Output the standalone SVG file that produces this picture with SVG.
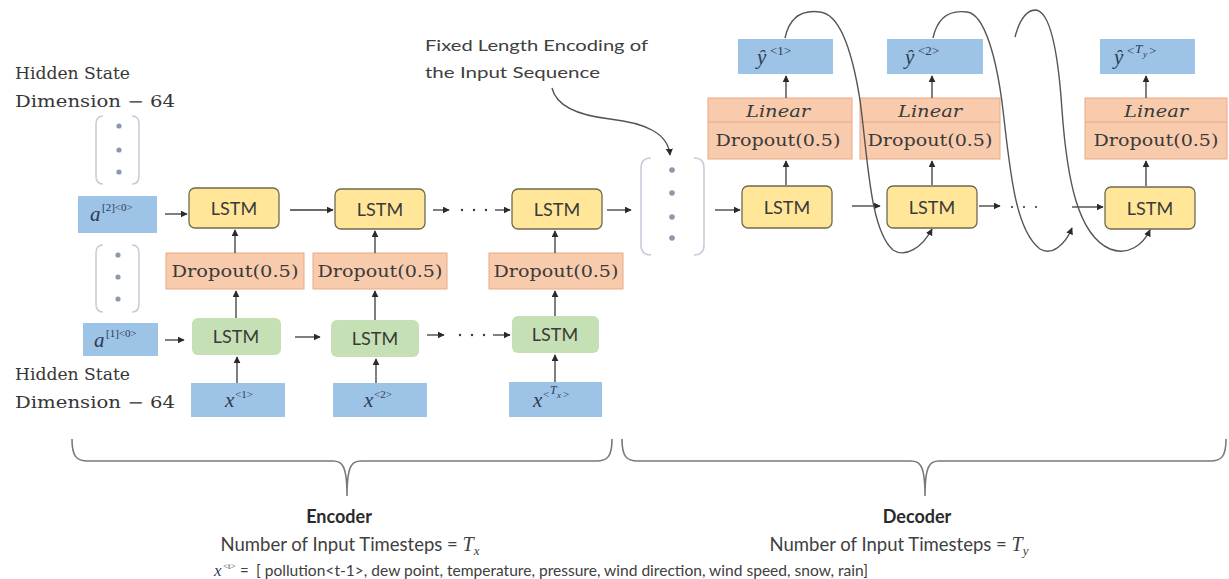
<svg xmlns="http://www.w3.org/2000/svg" width="1229" height="579" viewBox="0 0 1229 579">
<style>
.bg{fill:#ffffff}
.blue{fill:#9DC3E6}
.yel{fill:#FFE699;stroke:#6e6a4e;stroke-width:1.3}
.org{fill:#F8CBAD;stroke:#eaa886;stroke-width:1}
.grn{fill:#C5E0B4}
.lstm{font-family:Lato,"Open Sans",sans-serif;font-size:18px;fill:#3a3a3a;text-anchor:middle}
.drop{font-family:"DejaVu Serif",serif;font-size:17px;fill:#3a3a3a;text-anchor:middle}
.lin{font-family:"DejaVu Serif",serif;font-style:italic;font-size:17px;fill:#3a3a3a;text-anchor:middle}
.lbl{font-family:"DejaVu Serif",serif;font-size:16px;fill:#363636}
.mi{font-family:"Liberation Serif",serif;font-style:italic;font-size:21px;fill:#2f3b52}
.sup{font-family:"Liberation Serif",serif;font-size:11px;fill:#2f3b52}
.supi{font-family:"Liberation Serif",serif;font-style:italic;font-size:12px;fill:#2f3b52}
.sans{font-family:Lato,"Open Sans",sans-serif;font-size:16px;fill:#404040}
.num{font-family:Lato,"Open Sans",sans-serif;font-size:18.5px;fill:#404040;text-anchor:middle}
.bold{font-family:Lato,"Open Sans",sans-serif;font-weight:bold;font-size:18px;fill:#2a2a2a;text-anchor:middle}
.brk{fill:none;stroke:#c3ccd8;stroke-width:1.5}
.dot{fill:#8a9aae}
.ar{fill:none;stroke:#3a3a3a;stroke-width:1.3;marker-end:url(#ah)}
.cv{fill:none;stroke:#555555;stroke-width:1.4;marker-end:url(#ah)}
.brace{fill:none;stroke:#7a7a7a;stroke-width:1.6}
.sd{fill:#3a3a3a}
</style>
<defs>
<marker id="ah" viewBox="0 0 10 10" refX="9" refY="5" markerWidth="7" markerHeight="7" markerUnits="userSpaceOnUse" orient="auto">
<path d="M0,0 L10,5 L0,10 z" fill="#2a2a2a"/>
</marker>
</defs>
<rect class="bg" x="0" y="0" width="1229" height="579"/>

<!-- labels -->
<g id="hidden-top">
<text class="lbl" x="15" y="79" textLength="115" lengthAdjust="spacingAndGlyphs">Hidden State</text>
<text class="lbl" x="15" y="107" textLength="160" lengthAdjust="spacingAndGlyphs">Dimension  − 64</text>
</g>
<g id="hidden-bottom">
<text class="lbl" x="15" y="380" textLength="115" lengthAdjust="spacingAndGlyphs">Hidden State</text>
<text class="lbl" x="15" y="408" textLength="160" lengthAdjust="spacingAndGlyphs">Dimension  − 64</text>
</g>
<g id="fixed-label">
<text class="sans" x="425" y="51" textLength="223" lengthAdjust="spacingAndGlyphs">Fixed Length Encoding of</text>
<text class="sans" x="425" y="78" textLength="175" lengthAdjust="spacingAndGlyphs">the Input Sequence</text>
</g>

<!-- brackets (hidden state vectors) -->
<g id="vec-a2">
<path class="brk" d="M103,116 Q96,116 96,124 L96,176 Q96,184 103,184"/>
<path class="brk" d="M132,116 Q139,116 139,124 L139,176 Q139,184 132,184"/>
<circle class="dot" cx="119" cy="126" r="2.6"/>
<circle class="dot" cx="119" cy="150" r="2.6"/>
<circle class="dot" cx="119" cy="172" r="2.6"/>
</g>
<g id="vec-a1">
<path class="brk" d="M103,245 Q96,245 96,253 L96,304 Q96,312 103,312"/>
<path class="brk" d="M132,245 Q139,245 139,253 L139,304 Q139,312 132,312"/>
<circle class="dot" cx="118" cy="255" r="2.6"/>
<circle class="dot" cx="118" cy="277" r="2.6"/>
<circle class="dot" cx="118" cy="299" r="2.6"/>
</g>
<g id="encoding">
<path class="brk" d="M651,158 Q641,158 641,168 L641,245 Q641,255 651,255"/>
<path class="brk" d="M694,158 Q704,158 704,168 L704,245 Q704,255 694,255"/>
<circle class="dot" cx="672" cy="170" r="2.8"/>
<circle class="dot" cx="672" cy="193" r="2.8"/>
<circle class="dot" cx="672" cy="217" r="2.8"/>
<circle class="dot" cx="672" cy="238" r="2.8"/>
</g>

<!-- encoder nodes -->
<g id="a2">
<rect class="blue" x="78" y="196" width="79" height="37"/>
<text class="mi" x="90" y="221">a</text><text class="sup" x="102" y="211">[2]&lt;0&gt;</text>
</g>
<g id="a1">
<rect class="blue" x="83" y="323" width="75" height="33"/>
<text class="mi" x="94" y="347">a</text><text class="sup" x="106" y="337">[1]&lt;0&gt;</text>
</g>
<g id="enc-lstm2-1"><rect class="yel" x="189" y="188" width="90" height="40" rx="6"/><text class="lstm" x="234" y="215">LSTM</text></g>
<g id="enc-lstm2-2"><rect class="yel" x="335" y="189" width="90" height="40" rx="6"/><text class="lstm" x="380" y="216">LSTM</text></g>
<g id="enc-lstm2-3"><rect class="yel" x="512" y="189" width="90" height="40" rx="6"/><text class="lstm" x="557" y="216">LSTM</text></g>
<g id="enc-drop-1"><rect class="org" x="166" y="253" width="138" height="36"/><text class="drop" x="235" y="277" textLength="127" lengthAdjust="spacingAndGlyphs">Dropout(0.5)</text></g>
<g id="enc-drop-2"><rect class="org" x="313" y="253" width="134" height="36"/><text class="drop" x="380" y="277" textLength="125" lengthAdjust="spacingAndGlyphs">Dropout(0.5)</text></g>
<g id="enc-drop-3"><rect class="org" x="489" y="253" width="134" height="36"/><text class="drop" x="556" y="277" textLength="125" lengthAdjust="spacingAndGlyphs">Dropout(0.5)</text></g>
<g id="enc-lstm1-1"><rect class="grn" x="192" y="318" width="89" height="37" rx="6"/><text class="lstm" x="236" y="343">LSTM</text></g>
<g id="enc-lstm1-2"><rect class="grn" x="331" y="320" width="88" height="37" rx="6"/><text class="lstm" x="375" y="345">LSTM</text></g>
<g id="enc-lstm1-3"><rect class="grn" x="512" y="316" width="87" height="37" rx="6"/><text class="lstm" x="555" y="341">LSTM</text></g>
<g id="x1"><rect class="blue" x="191" y="383" width="94" height="34"/><text class="mi" x="225" y="407">x</text><text class="sup" x="235" y="398">&lt;1&gt;</text></g>
<g id="x2"><rect class="blue" x="333" y="383" width="94" height="34"/><text class="mi" x="364" y="407">x</text><text class="sup" x="374" y="398">&lt;2&gt;</text></g>
<g id="xTx"><rect class="blue" x="509" y="382" width="93" height="35"/><text class="mi" x="533" y="407">x</text><text class="sup" x="543" y="398">&lt;</text><text class="supi" x="550" y="394">T</text><text class="supi" x="557" y="398" style="font-size:9px">x</text><text class="sup" x="563" y="398">&gt;</text></g>

<!-- decoder nodes -->
<g id="dec-lstm-1"><rect class="yel" x="742" y="186" width="90" height="42" rx="6"/><text class="lstm" x="787" y="214">LSTM</text></g>
<g id="dec-lstm-2"><rect class="yel" x="887" y="186" width="90" height="42" rx="6"/><text class="lstm" x="932" y="214">LSTM</text></g>
<g id="dec-lstm-3"><rect class="yel" x="1105" y="187" width="90" height="42" rx="6"/><text class="lstm" x="1150" y="215">LSTM</text></g>
<g id="dec-head-1"><rect class="org" x="708" y="98" width="144" height="61"/><line x1="708" y1="122" x2="852" y2="122" stroke="#eaa886"/><text class="lin" x="778" y="117" textLength="64" lengthAdjust="spacingAndGlyphs">Linear</text><text class="drop" x="778" y="146" textLength="125" lengthAdjust="spacingAndGlyphs">Dropout(0.5)</text></g>
<g id="dec-head-2"><rect class="org" x="860" y="98" width="140" height="61"/><line x1="860" y1="122" x2="1000" y2="122" stroke="#eaa886"/><text class="lin" x="930" y="117" textLength="64" lengthAdjust="spacingAndGlyphs">Linear</text><text class="drop" x="930" y="146" textLength="125" lengthAdjust="spacingAndGlyphs">Dropout(0.5)</text></g>
<g id="dec-head-3"><rect class="org" x="1085" y="98" width="142" height="61"/><line x1="1085" y1="122" x2="1227" y2="122" stroke="#eaa886"/><text class="lin" x="1156" y="117" textLength="64" lengthAdjust="spacingAndGlyphs">Linear</text><text class="drop" x="1156" y="146" textLength="125" lengthAdjust="spacingAndGlyphs">Dropout(0.5)</text></g>
<g id="y1"><rect class="blue" x="738" y="39" width="95" height="35"/><text class="mi" x="757" y="64">ŷ</text><text class="sup" x="770" y="55" style="font-size:13px">&lt;1&gt;</text></g>
<g id="y2"><rect class="blue" x="887" y="39" width="96" height="35"/><text class="mi" x="905" y="64">ŷ</text><text class="sup" x="918" y="55" style="font-size:13px">&lt;2&gt;</text></g>
<g id="yTy"><rect class="blue" x="1100" y="39" width="95" height="35"/><text class="mi" x="1114" y="64">ŷ</text><text class="sup" x="1127" y="55" style="font-size:13px">&lt;</text><text class="supi" x="1135" y="53" style="font-size:13px">T</text><text class="supi" x="1143" y="57" style="font-size:9px">y</text><text class="sup" x="1149" y="55" style="font-size:13px">&gt;</text></g>

<!-- connectors -->
<g id="connectors">
<line class="ar" x1="165" y1="214" x2="187" y2="214"/>
<line class="ar" x1="290" y1="210" x2="333" y2="210"/>
<line class="ar" x1="433" y1="210" x2="449" y2="210"/>
<circle class="sd" cx="462" cy="210" r="1.2"/><circle class="sd" cx="474" cy="210" r="1.2"/><circle class="sd" cx="486" cy="210" r="1.2"/>
<line class="ar" x1="495" y1="210" x2="510" y2="210"/>
<line class="ar" x1="607" y1="210" x2="631" y2="210"/>
<line class="ar" x1="165" y1="340" x2="184" y2="340"/>
<line class="ar" x1="295" y1="337" x2="320" y2="337"/>
<line class="ar" x1="427" y1="335" x2="444" y2="335"/>
<circle class="sd" cx="460" cy="335" r="1.2"/><circle class="sd" cx="472" cy="335" r="1.2"/><circle class="sd" cx="484" cy="335" r="1.2"/>
<line class="ar" x1="493" y1="335" x2="510" y2="335"/>
<line class="ar" x1="237" y1="383" x2="237" y2="357"/>
<line class="ar" x1="236" y1="318" x2="236" y2="291"/>
<line class="ar" x1="235" y1="253" x2="235" y2="230"/>
<line class="ar" x1="376" y1="383" x2="376" y2="359"/>
<line class="ar" x1="375" y1="320" x2="375" y2="291"/>
<line class="ar" x1="375" y1="253" x2="375" y2="231"/>
<line class="ar" x1="555" y1="382" x2="555" y2="355"/>
<line class="ar" x1="555" y1="316" x2="555" y2="291"/>
<line class="ar" x1="555" y1="253" x2="555" y2="231"/>
<line class="ar" x1="715" y1="210" x2="740" y2="210"/>
<line class="ar" x1="786" y1="185" x2="786" y2="161"/>
<line class="ar" x1="786" y1="98" x2="786" y2="76"/>
<line class="ar" x1="932" y1="185" x2="932" y2="161"/>
<line class="ar" x1="932" y1="98" x2="932" y2="76"/>
<line class="ar" x1="1146" y1="186" x2="1146" y2="161"/>
<line class="ar" x1="1146" y1="98" x2="1146" y2="76"/>
<line class="ar" x1="852" y1="206" x2="880" y2="206"/>
<line class="ar" x1="979" y1="206" x2="1000" y2="206"/>
<circle class="sd" cx="1012" cy="207" r="1.1"/><circle class="sd" cx="1024" cy="207" r="1.1"/><circle class="sd" cx="1036" cy="207" r="1.1"/>
<line class="ar" x1="1072" y1="207" x2="1103" y2="207"/>
<path class="cv" d="M552,88 C556,105 575,115 610,119 C645,123 668,133 670,155"/>
<path class="cv" d="M785,38 C790,15 805,10 820,12 C840,14 852,50 860,100 C868,160 870,230 893,250 C905,258 922,248 932,229"/>
<path class="cv" d="M933,38 C938,15 952,10 967,12 C985,14 997,60 1003,110 C1010,170 1015,230 1040,249 C1052,256 1065,245 1072,228"/>
<path class="cv" d="M1015,37 C1020,18 1028,10 1036,10 C1050,12 1058,50 1062,110 C1067,180 1078,235 1110,249 C1128,256 1143,245 1150,230"/>
</g>

<!-- braces -->
<g id="encoder-brace">
<path class="brace" d="M72,439 C72,456 76,461 88,461 L333,461 C342,461 347,465 347,496 C347,465 352,461 361,461 L596,461 C608,461 612,456 612,439"/>
<text class="bold" x="339" y="523">Encoder</text>
<text class="num" x="350" y="551">Number of Input Timesteps = <tspan style="font-family:'Liberation Serif',serif;font-style:italic;font-size:20px">T</tspan><tspan style="font-family:'Liberation Serif',serif;font-style:italic;font-size:13px" dy="4">x</tspan></text>
</g>
<g id="decoder-brace">
<path class="brace" d="M622,439 C622,456 626,461 638,461 L911,461 C920,461 925,465 925,496 C925,465 930,461 939,461 L1210,461 C1222,461 1226,456 1226,439"/>
<text class="bold" x="917" y="523">Decoder</text>
<text class="num" x="899" y="551">Number of Input Timesteps = <tspan style="font-family:'Liberation Serif',serif;font-style:italic;font-size:20px">T</tspan><tspan style="font-family:'Liberation Serif',serif;font-style:italic;font-size:13px" dy="4">y</tspan></text>
</g>
<g id="features">
<text class="mi" x="214" y="576" style="font-size:17px">x</text><text class="sup" x="223" y="569" style="font-size:9px">&lt;t&gt;</text>
<text class="sans" x="240" y="576" style="font-size:15px">=</text>
<text class="sans" x="256" y="576" style="font-size:15px" textLength="612" lengthAdjust="spacingAndGlyphs">[ pollution&lt;t-1&gt;, dew point, temperature, pressure, wind direction, wind speed, snow, rain]</text>
</g>
</svg>
